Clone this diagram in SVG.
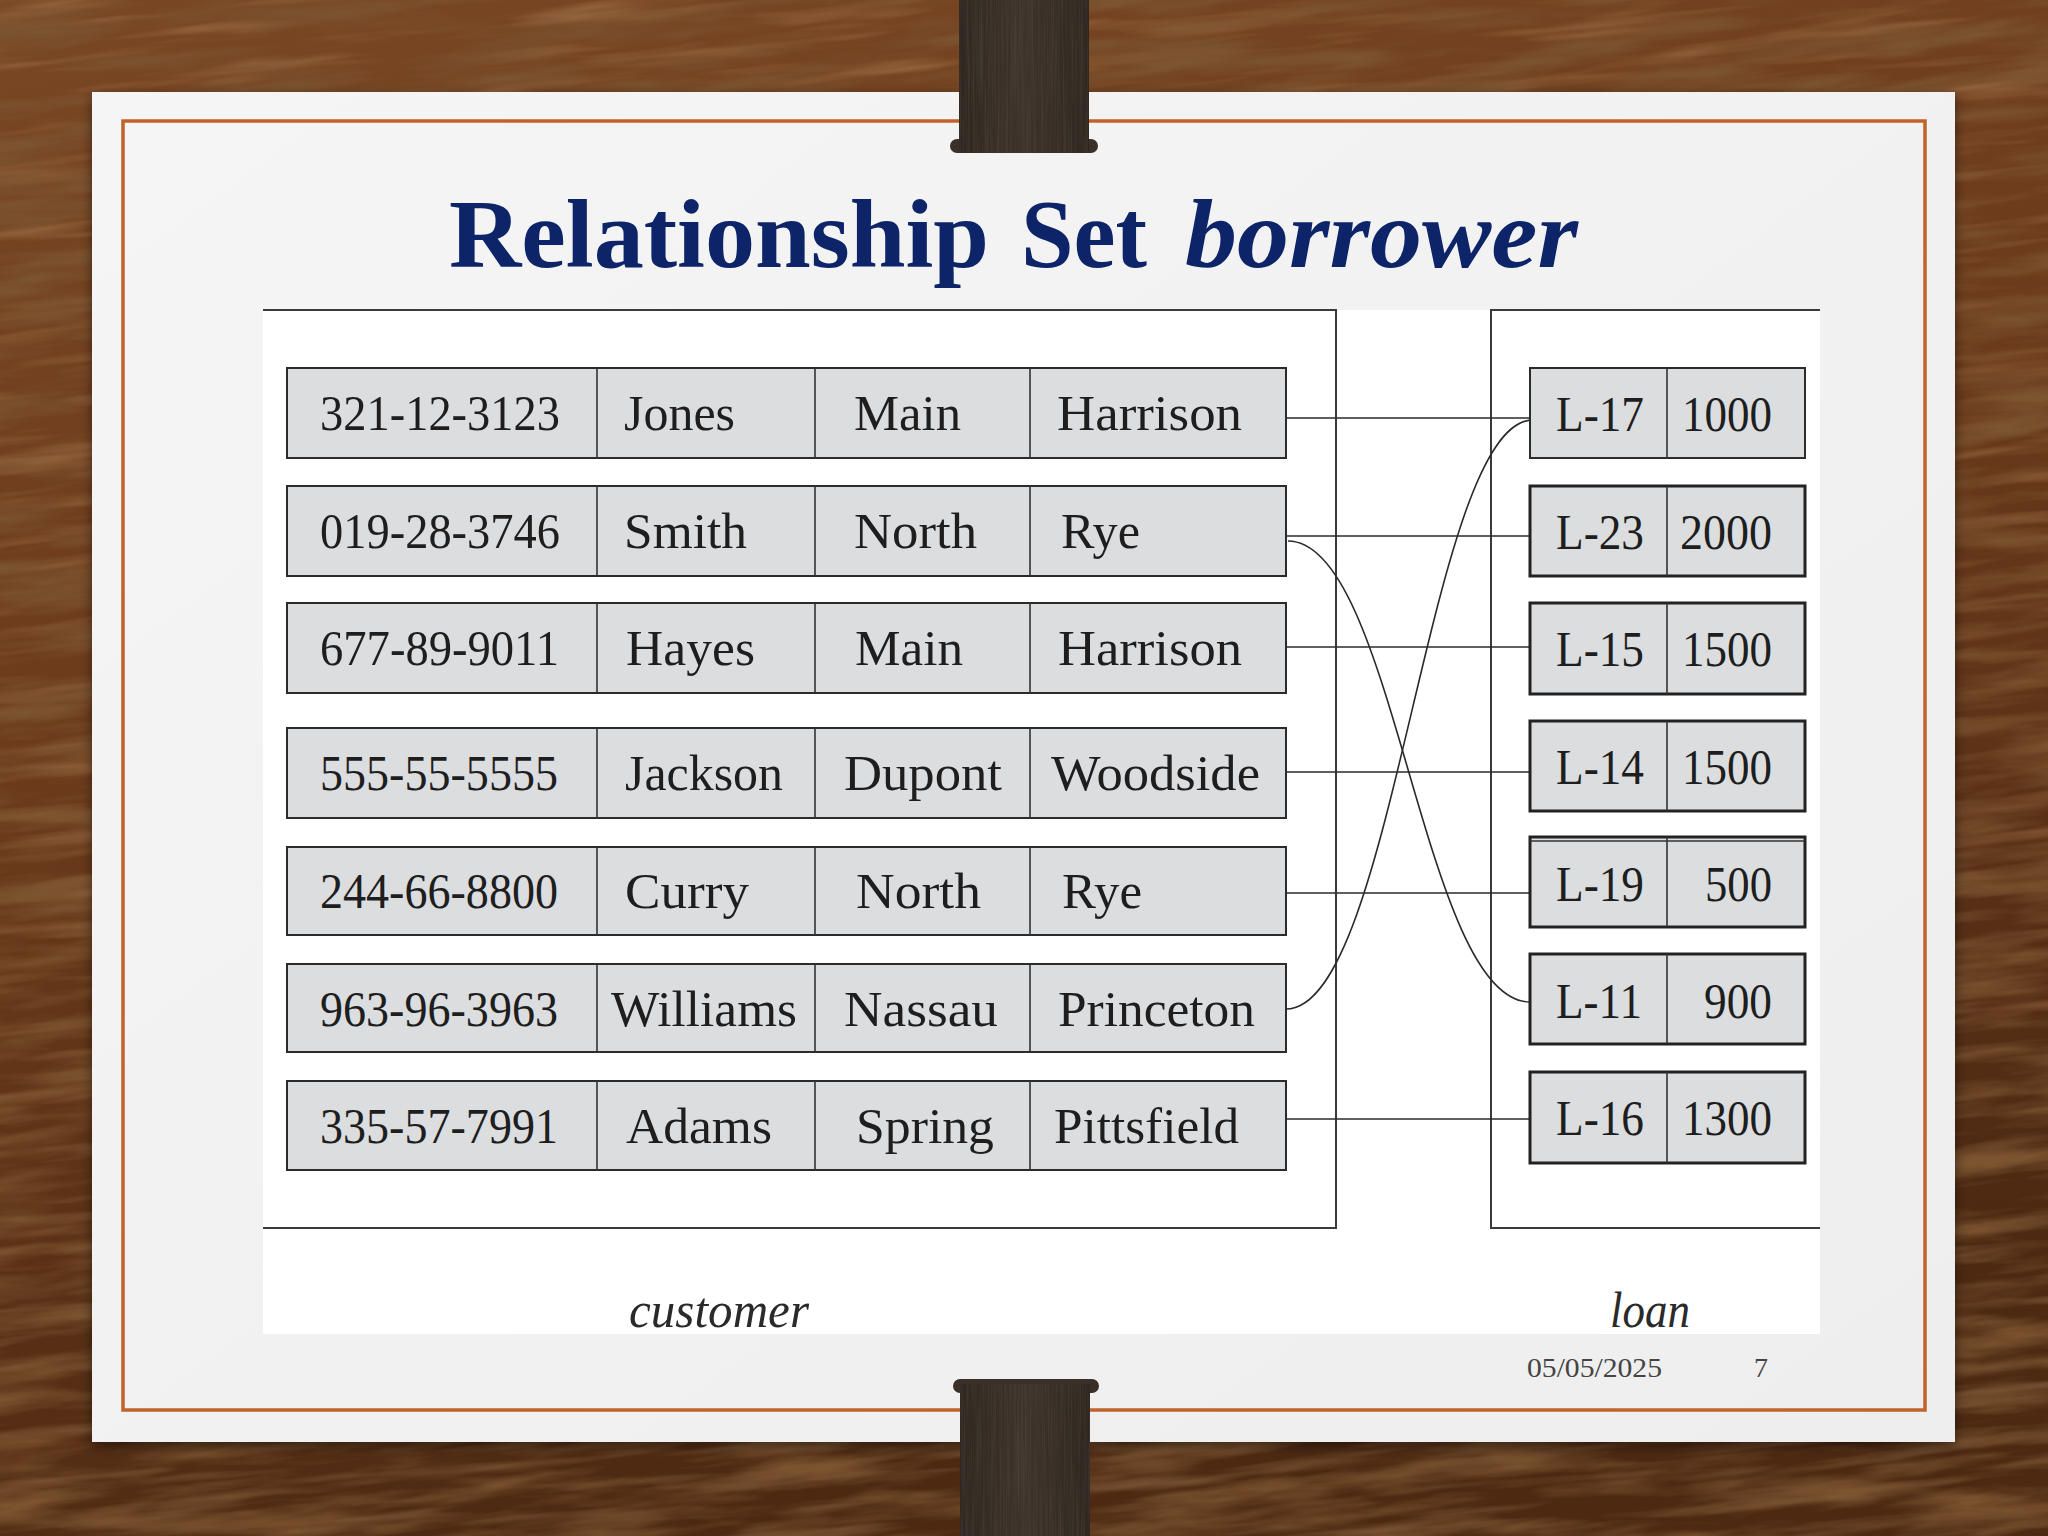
<svg xmlns="http://www.w3.org/2000/svg" width="2048" height="1536" viewBox="0 0 2048 1536">
<defs>
<filter id="grainDark" x="0" y="0" width="100%" height="100%">
<feTurbulence type="fractalNoise" baseFrequency="0.006 0.04" numOctaves="4" seed="7"/>
<feColorMatrix type="matrix" values="0 0 0 0 0.2  0 0 0 0 0.09  0 0 0 0 0.03  2.6 0 0 0 -1.1"/>
</filter>
<filter id="grainLight" x="0" y="0" width="100%" height="100%">
<feTurbulence type="fractalNoise" baseFrequency="0.005 0.06" numOctaves="3" seed="21"/>
<feColorMatrix type="matrix" values="0 0 0 0 0.6  0 0 0 0 0.36  0 0 0 0 0.17  2.0 0 0 0 -1.0"/>
</filter>
<filter id="clipGrain" x="0" y="0" width="100%" height="100%">
<feTurbulence type="fractalNoise" baseFrequency="0.6 0.01" numOctaves="2" seed="4"/>
<feColorMatrix type="matrix" values="0 0 0 0 0.12  0 0 0 0 0.1  0 0 0 0 0.08  1.2 0 0 0 -0.45"/>
</filter>
<filter id="shadow" x="-5%" y="-5%" width="110%" height="110%">
<feDropShadow dx="0" dy="4" stdDeviation="6" flood-color="#000" flood-opacity="0.5"/>
</filter>
<linearGradient id="woodBase" x1="0" y1="0" x2="0.3" y2="1">
<stop offset="0" stop-color="#7a4724"/>
<stop offset="0.45" stop-color="#6c3b1b"/>
<stop offset="1" stop-color="#4d2912"/>
</linearGradient>
<linearGradient id="clipFill" x1="0" y1="0" x2="1" y2="0">
<stop offset="0" stop-color="#2f2720"/>
<stop offset="0.5" stop-color="#3d332a"/>
<stop offset="1" stop-color="#2f2720"/>
</linearGradient>
<linearGradient id="paperFill" x1="0" y1="0" x2="1" y2="1">
<stop offset="0" stop-color="#f5f5f5"/>
<stop offset="1" stop-color="#eeeeee"/>
</linearGradient>
<style>
.box{fill:#dcdddf;stroke:#2b2b2b;stroke-width:2}
.lbox{fill:#dcdddf;stroke:#222;stroke-width:3}
.div{stroke:#333;stroke-width:1.6}
.cell{font-family:"Liberation Serif","DejaVu Serif",serif;font-size:50px;fill:#1e1e1e}
.frame{stroke:#3a3a3a;stroke-width:2;fill:none}
.conn{stroke:#2a2a2a;stroke-width:1.6;fill:none}
.cap{font-family:"Liberation Serif","DejaVu Serif",serif;font-style:italic;font-size:50px;fill:#2a2a2a}
.foot{font-family:"Liberation Serif","DejaVu Serif",serif;font-size:28px;fill:#444}
.title{font-family:"Liberation Serif","DejaVu Serif",serif;font-weight:bold;font-size:98px;fill:#0d2469}
</style>
</defs>

<!-- wood background -->
<rect x="0" y="0" width="2048" height="1536" fill="url(#woodBase)"/>
<g transform="rotate(-6 1024 768)">
<rect x="-200" y="-300" width="2448" height="2136" filter="url(#grainLight)" opacity="0.45"/>
<rect x="-200" y="-300" width="2448" height="2136" filter="url(#grainDark)"/>
</g>

<!-- paper -->
<rect x="92" y="92" width="1863" height="1350" fill="url(#paperFill)" filter="url(#shadow)"/>
<rect x="123" y="121" width="1802" height="1289" fill="none" stroke="#c0632b" stroke-width="3.5"/>

<!-- clips -->
<g id="clip-top">
<rect x="950" y="139" width="148" height="14" rx="7" fill="#3a3028"/>
<rect x="959" y="0" width="130" height="153" fill="url(#clipFill)"/>
<rect x="959" y="0" width="130" height="153" filter="url(#clipGrain)" opacity="0.6"/>
</g>
<g id="clip-bottom">
<rect x="953" y="1379" width="146" height="14" rx="7" fill="#3a3028"/>
<rect x="960" y="1384" width="130" height="152" fill="url(#clipFill)"/>
<rect x="960" y="1384" width="130" height="152" filter="url(#clipGrain)" opacity="0.6"/>
</g>

<!-- title -->
<g id="title">
<text class="title" x="449" y="267" textLength="540" lengthAdjust="spacingAndGlyphs">Relationship</text>
<text class="title" x="1021" y="267" textLength="126" lengthAdjust="spacingAndGlyphs">Set</text>
<text class="title" x="1185" y="267" font-style="italic" textLength="393" lengthAdjust="spacingAndGlyphs">borrower</text>
</g>

<!-- figure area -->
<rect x="263" y="310" width="1557" height="1024" fill="#ffffff"/>
<g id="customer-frame">
<path class="frame" d="M263,310 H1336 V1228 H263"/>
</g>
<g id="loan-frame">
<path class="frame" d="M1820,310 H1491 V1228 H1820"/>
</g>

<!-- connectors -->
<g id="connectors">
<line class="conn" x1="1286" y1="418" x2="1530" y2="418"/>
<line class="conn" x1="1286" y1="536" x2="1530" y2="536"/>
<line class="conn" x1="1286" y1="647" x2="1530" y2="647"/>
<line class="conn" x1="1286" y1="772" x2="1530" y2="772"/>
<line class="conn" x1="1286" y1="893" x2="1530" y2="893"/>
<line class="conn" x1="1286" y1="1119" x2="1530" y2="1119"/>
<path class="conn" d="M1288,541 C1395,541 1422,1002 1530,1002"/>
<path class="conn" d="M1286,1009 C1395,1009 1428,420 1533,420"/>
</g>

<!-- customer entities -->
<g id="cust-1">
<rect class="box" x="287" y="368" width="999" height="90"/>
<line class="div" x1="597" y1="368" x2="597" y2="458"/><line class="div" x1="815" y1="368" x2="815" y2="458"/><line class="div" x1="1030" y1="368" x2="1030" y2="458"/>
<text class="cell" x="320" y="430" textLength="240" lengthAdjust="spacingAndGlyphs">321-12-3123</text>
<text class="cell" x="624" y="430" textLength="111" lengthAdjust="spacingAndGlyphs">Jones</text>
<text class="cell" x="854" y="430" textLength="107" lengthAdjust="spacingAndGlyphs">Main</text>
<text class="cell" x="1057" y="430" textLength="185" lengthAdjust="spacingAndGlyphs">Harrison</text>
</g>
<g id="cust-2">
<rect class="box" x="287" y="486" width="999" height="90"/>
<line class="div" x1="597" y1="486" x2="597" y2="576"/><line class="div" x1="815" y1="486" x2="815" y2="576"/><line class="div" x1="1030" y1="486" x2="1030" y2="576"/>
<text class="cell" x="320" y="548" textLength="240" lengthAdjust="spacingAndGlyphs">019-28-3746</text>
<text class="cell" x="624" y="548" textLength="123" lengthAdjust="spacingAndGlyphs">Smith</text>
<text class="cell" x="854" y="548" textLength="123" lengthAdjust="spacingAndGlyphs">North</text>
<text class="cell" x="1061" y="548" textLength="79" lengthAdjust="spacingAndGlyphs">Rye</text>
</g>
<g id="cust-3">
<rect class="box" x="287" y="603" width="999" height="90"/>
<line class="div" x1="597" y1="603" x2="597" y2="693"/><line class="div" x1="815" y1="603" x2="815" y2="693"/><line class="div" x1="1030" y1="603" x2="1030" y2="693"/>
<text class="cell" x="320" y="665" textLength="239" lengthAdjust="spacingAndGlyphs">677-89-9011</text>
<text class="cell" x="626" y="665" textLength="129" lengthAdjust="spacingAndGlyphs">Hayes</text>
<text class="cell" x="855" y="665" textLength="108" lengthAdjust="spacingAndGlyphs">Main</text>
<text class="cell" x="1058" y="665" textLength="184" lengthAdjust="spacingAndGlyphs">Harrison</text>
</g>
<g id="cust-4">
<rect class="box" x="287" y="728" width="999" height="90"/>
<line class="div" x1="597" y1="728" x2="597" y2="818"/><line class="div" x1="815" y1="728" x2="815" y2="818"/><line class="div" x1="1030" y1="728" x2="1030" y2="818"/>
<text class="cell" x="320" y="790" textLength="238" lengthAdjust="spacingAndGlyphs">555-55-5555</text>
<text class="cell" x="625" y="790" textLength="158" lengthAdjust="spacingAndGlyphs">Jackson</text>
<text class="cell" x="844" y="790" textLength="158" lengthAdjust="spacingAndGlyphs">Dupont</text>
<text class="cell" x="1051" y="790" textLength="209" lengthAdjust="spacingAndGlyphs">Woodside</text>
</g>
<g id="cust-5">
<rect class="box" x="287" y="847" width="999" height="88"/>
<line class="div" x1="597" y1="847" x2="597" y2="935"/><line class="div" x1="815" y1="847" x2="815" y2="935"/><line class="div" x1="1030" y1="847" x2="1030" y2="935"/>
<text class="cell" x="320" y="908" textLength="238" lengthAdjust="spacingAndGlyphs">244-66-8800</text>
<text class="cell" x="625" y="908" textLength="124" lengthAdjust="spacingAndGlyphs">Curry</text>
<text class="cell" x="856" y="908" textLength="125" lengthAdjust="spacingAndGlyphs">North</text>
<text class="cell" x="1062" y="908" textLength="80" lengthAdjust="spacingAndGlyphs">Rye</text>
</g>
<g id="cust-6">
<rect class="box" x="287" y="964" width="999" height="88"/>
<line class="div" x1="597" y1="964" x2="597" y2="1052"/><line class="div" x1="815" y1="964" x2="815" y2="1052"/><line class="div" x1="1030" y1="964" x2="1030" y2="1052"/>
<text class="cell" x="320" y="1026" textLength="238" lengthAdjust="spacingAndGlyphs">963-96-3963</text>
<text class="cell" x="611" y="1026" textLength="186" lengthAdjust="spacingAndGlyphs">Williams</text>
<text class="cell" x="844" y="1026" textLength="154" lengthAdjust="spacingAndGlyphs">Nassau</text>
<text class="cell" x="1058" y="1026" textLength="197" lengthAdjust="spacingAndGlyphs">Princeton</text>
</g>
<g id="cust-7">
<rect class="box" x="287" y="1081" width="999" height="89"/>
<line class="div" x1="597" y1="1081" x2="597" y2="1170"/><line class="div" x1="815" y1="1081" x2="815" y2="1170"/><line class="div" x1="1030" y1="1081" x2="1030" y2="1170"/>
<text class="cell" x="320" y="1143" textLength="238" lengthAdjust="spacingAndGlyphs">335-57-7991</text>
<text class="cell" x="626" y="1143" textLength="146" lengthAdjust="spacingAndGlyphs">Adams</text>
<text class="cell" x="856" y="1143" textLength="138" lengthAdjust="spacingAndGlyphs">Spring</text>
<text class="cell" x="1054" y="1143" textLength="185" lengthAdjust="spacingAndGlyphs">Pittsfield</text>
</g>

<!-- loan entities -->
<g id="loan-L17">
<rect class="box" x="1530" y="368" width="275" height="90"/>
<line class="div" x1="1667" y1="368" x2="1667" y2="458"/>
<text class="cell" x="1556" y="431" textLength="88" lengthAdjust="spacingAndGlyphs">L-17</text>
<text class="cell" x="1772" y="431" text-anchor="end" textLength="90" lengthAdjust="spacingAndGlyphs">1000</text>
</g>
<g id="loan-L23">
<rect class="lbox" x="1530" y="486" width="275" height="90"/>
<line class="div" x1="1667" y1="486" x2="1667" y2="576"/>
<text class="cell" x="1556" y="549" textLength="88" lengthAdjust="spacingAndGlyphs">L-23</text>
<text class="cell" x="1772" y="549" text-anchor="end" textLength="92" lengthAdjust="spacingAndGlyphs">2000</text>
</g>
<g id="loan-L15">
<rect class="lbox" x="1530" y="603" width="275" height="91"/>
<line class="div" x1="1667" y1="603" x2="1667" y2="694"/>
<text class="cell" x="1556" y="666" textLength="88" lengthAdjust="spacingAndGlyphs">L-15</text>
<text class="cell" x="1772" y="666" text-anchor="end" textLength="90" lengthAdjust="spacingAndGlyphs">1500</text>
</g>
<g id="loan-L14">
<rect class="lbox" x="1530" y="721" width="275" height="90"/>
<line class="div" x1="1667" y1="721" x2="1667" y2="811"/>
<text class="cell" x="1556" y="784" textLength="88" lengthAdjust="spacingAndGlyphs">L-14</text>
<text class="cell" x="1772" y="784" text-anchor="end" textLength="90" lengthAdjust="spacingAndGlyphs">1500</text>
</g>
<g id="loan-L19">
<rect class="lbox" x="1530" y="837" width="275" height="90"/>
<line class="div" x1="1530" y1="841" x2="1805" y2="841"/>
<line class="div" x1="1667" y1="837" x2="1667" y2="927"/>
<text class="cell" x="1556" y="901" textLength="88" lengthAdjust="spacingAndGlyphs">L-19</text>
<text class="cell" x="1772" y="901" text-anchor="end" textLength="67" lengthAdjust="spacingAndGlyphs">500</text>
</g>
<g id="loan-L11">
<rect class="lbox" x="1530" y="954" width="275" height="90"/>
<line class="div" x1="1667" y1="954" x2="1667" y2="1044"/>
<text class="cell" x="1556" y="1018" textLength="86" lengthAdjust="spacingAndGlyphs">L-11</text>
<text class="cell" x="1772" y="1018" text-anchor="end" textLength="68" lengthAdjust="spacingAndGlyphs">900</text>
</g>
<g id="loan-L16">
<rect class="lbox" x="1530" y="1072" width="275" height="91"/>
<line class="div" x1="1667" y1="1072" x2="1667" y2="1163"/>
<text class="cell" x="1556" y="1135" textLength="88" lengthAdjust="spacingAndGlyphs">L-16</text>
<text class="cell" x="1772" y="1135" text-anchor="end" textLength="90" lengthAdjust="spacingAndGlyphs">1300</text>
</g>

<!-- captions -->
<text class="cap" x="629" y="1327" textLength="180" lengthAdjust="spacingAndGlyphs">customer</text>
<text class="cap" x="1610" y="1327" textLength="80" lengthAdjust="spacingAndGlyphs">loan</text>

<!-- footer -->
<text class="foot" x="1527" y="1377" textLength="135" lengthAdjust="spacingAndGlyphs">05/05/2025</text>
<text class="foot" x="1754" y="1377">7</text>
</svg>
